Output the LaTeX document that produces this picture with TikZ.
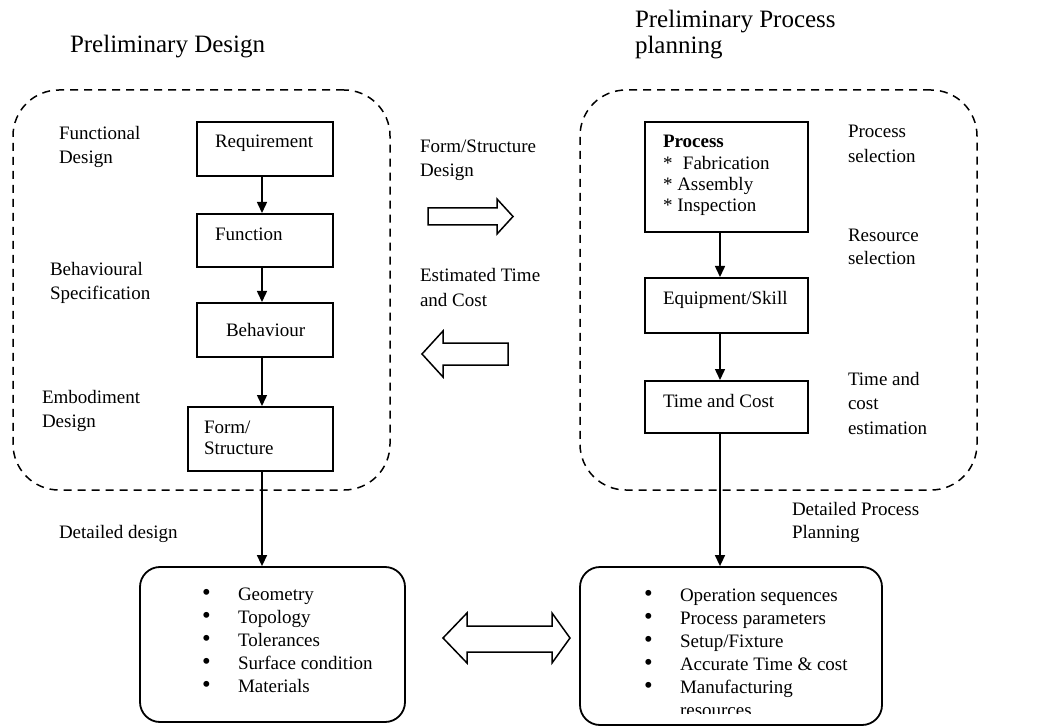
\documentclass[tikz,border=0pt]{standalone}
\usepackage{fontspec}
\setmainfont{Liberation Serif}
\usetikzlibrary{arrows.meta}
% text block whose anchor is the baseline of its first line; #1 = line spacing
\newcommand\rows[2][23.5]{{\fontsize{19}{#1}\selectfont\begin{tabular}[t]{@{}l@{}}#2\end{tabular}}}
\newcommand\ttlrows[2][25.5]{{\fontsize{25}{#1}\selectfont\begin{tabular}[t]{@{}l@{}}#2\end{tabular}}}
% bulleted list with a fixed bullet column
\newcommand\bul{\raisebox{-0.02em}{\scalebox{1.3}{\textbullet}}}
\newcommand\blist[1]{{\fontsize{19}{23}\selectfont\begin{tabular}[t]{@{}p{36pt}@{}l@{}}#1\end{tabular}}}
\begin{document}
\begin{tikzpicture}[x=1pt,y=-1pt,
  lbl/.style={anchor=base west,inner sep=0pt,outer sep=0pt,font=\fontsize{19}{23.5}\selectfont},
  ttl/.style={anchor=base west,inner sep=0pt,outer sep=0pt,font=\fontsize{25}{25.5}\selectfont},
  stepbox/.style={draw,line width=2pt,rectangle,inner sep=0pt},
  roundbox/.style={draw,line width=1.8pt,rectangle,rounded corners=20pt,inner sep=0pt},
  dashbox/.style={draw,line width=1.5pt,dash pattern=on 8pt off 6pt,rectangle,rounded corners=46pt,inner sep=0pt},
  conn/.style={line width=1.5pt,-{Triangle[length=11pt,width=10pt]}},
  hollow/.style={draw,line width=1.5pt,fill=white,line join=miter}]
\useasboundingbox (0,0) rectangle (1044,727);

% titles
\node[ttl] (tpd) at (70,53) {Preliminary Design};
\node[ttl] (tppp) at (635,28) {\ttlrows{Preliminary Process\\planning}};

% dashed groups
\node[dashbox,minimum width=377pt,minimum height=400pt] (pd) at (201.5,290) {};
\node[dashbox,minimum width=397pt,minimum height=400pt] (ppp) at (778.5,290) {};

% preliminary design chain
\node[stepbox,minimum width=136pt,minimum height=54pt] (req) at (265,149) {};
\node[stepbox,minimum width=136pt,minimum height=53pt] (func) at (265,240.5) {};
\node[stepbox,minimum width=136pt,minimum height=54pt] (beh) at (265,330) {};
\node[stepbox,minimum width=145pt,minimum height=64pt] (form) at (260.5,439) {};
\node[lbl] (treq) at (215,148) {Requirement};
\node[lbl] (tfunc) at (215,241) {Function};
\node[lbl] (tbeh) at (226,337) {Behaviour};
\node[lbl] (tform) at (204,433) {\rows[21]{Form/\\Structure}};

\node[lbl] (lfd) at (59,140) {\rows[24]{Functional\\Design}};
\node[lbl] (lbs) at (50,276) {\rows[24]{Behavioural\\Specification}};
\node[lbl] (led) at (42,403) {\rows[24]{Embodiment\\Design}};

% preliminary process planning chain
\node[stepbox,minimum width=163pt,minimum height=110pt] (proc) at (726.5,177) {};
\node[stepbox,minimum width=163pt,minimum height=55pt] (equip) at (726.5,305.5) {};
\node[stepbox,minimum width=163pt,minimum height=52pt] (tc) at (726.5,407) {};
\node[lbl] (tproc) at (663,148) {\rows[21.3]{\textbf{Process}\\{*}\hspace{0.55em}Fabrication\\{*} Assembly\\{*} Inspection}};
\node[lbl] (tequip) at (663,305) {Equipment/Skill};
\node[lbl] (ttc) at (663,407) {Time and Cost};

\node[lbl] (lps) at (848,138) {\rows[25]{Process\\selection}};
\node[lbl] (lrs) at (848,242) {\rows[23]{Resource\\selection}};
\node[lbl] (ltc) at (848,385) {\rows[24.5]{Time and\\cost\\estimation}};

% exchange between the two groups
\node[lbl] (lfsd) at (420,153) {\rows[24]{Form/Structure\\Design}};
\node[lbl] (letc) at (420,282) {\rows[25]{Estimated Time\\and Cost}};
\draw[hollow] (428,208) -- (497,208) -- (497,199) -- (513,216.5) -- (497,234) -- (497,225) -- (428,225) -- cycle;
\draw[hollow] (508,343) -- (443,343) -- (443,331) -- (422,354) -- (443,377) -- (443,365) -- (508,365) -- cycle;

% detailed stages
\node[roundbox,minimum width=265pt,minimum height=155pt] (dd) at (272.5,644.5) {};
\node[roundbox,minimum width=302pt,minimum height=158pt] (dp) at (731,646) {};
\node[lbl] (ldd) at (59,538) {Detailed design};
\node[lbl] (ldp) at (792,515) {\rows[23]{Detailed Process\\Planning}};
\node[lbl] (tdd) at (202,600.5) {\blist{\bul & Geometry\\ \bul & Topology\\ \bul & Tolerances\\ \bul & Surface condition\\ \bul & Materials}};
\begin{scope}
  \clip (575,570) rectangle (880,713);
  \node[lbl] (tdp) at (644,601.5) {\blist{\bul & Operation sequences\\ \bul & Process parameters\\ \bul & Setup/Fixture\\ \bul & Accurate Time \& cost\\ \bul & Manufacturing\\ & resources}};
\end{scope}
\draw[hollow] (443,638) -- (467,613) -- (467,626) -- (552,626) -- (552,613) -- (570,638) -- (552,663) -- (552,652) -- (467,652) -- (467,663) -- cycle;

% connectors
\draw[conn] ([xshift=-3pt]req.south) -- ([xshift=-3pt]func.north);
\draw[conn] ([xshift=-3pt]func.south) -- ([xshift=-3pt]beh.north);
\draw[conn] ([xshift=-3pt]beh.south) -- ([xshift=1.5pt]form.north);
\draw[conn] ([xshift=1.5pt]form.south) -- ([xshift=1.5pt]form.south |- dd.north);
\draw[conn] ([xshift=-6.5pt]proc.south) -- ([xshift=-6.5pt]equip.north);
\draw[conn] ([xshift=-6.5pt]equip.south) -- ([xshift=-6.5pt]tc.north);
\draw[conn] ([xshift=-6.5pt]tc.south) -- ([xshift=-6.5pt]tc.south |- dp.north);
\end{tikzpicture}
\end{document}
